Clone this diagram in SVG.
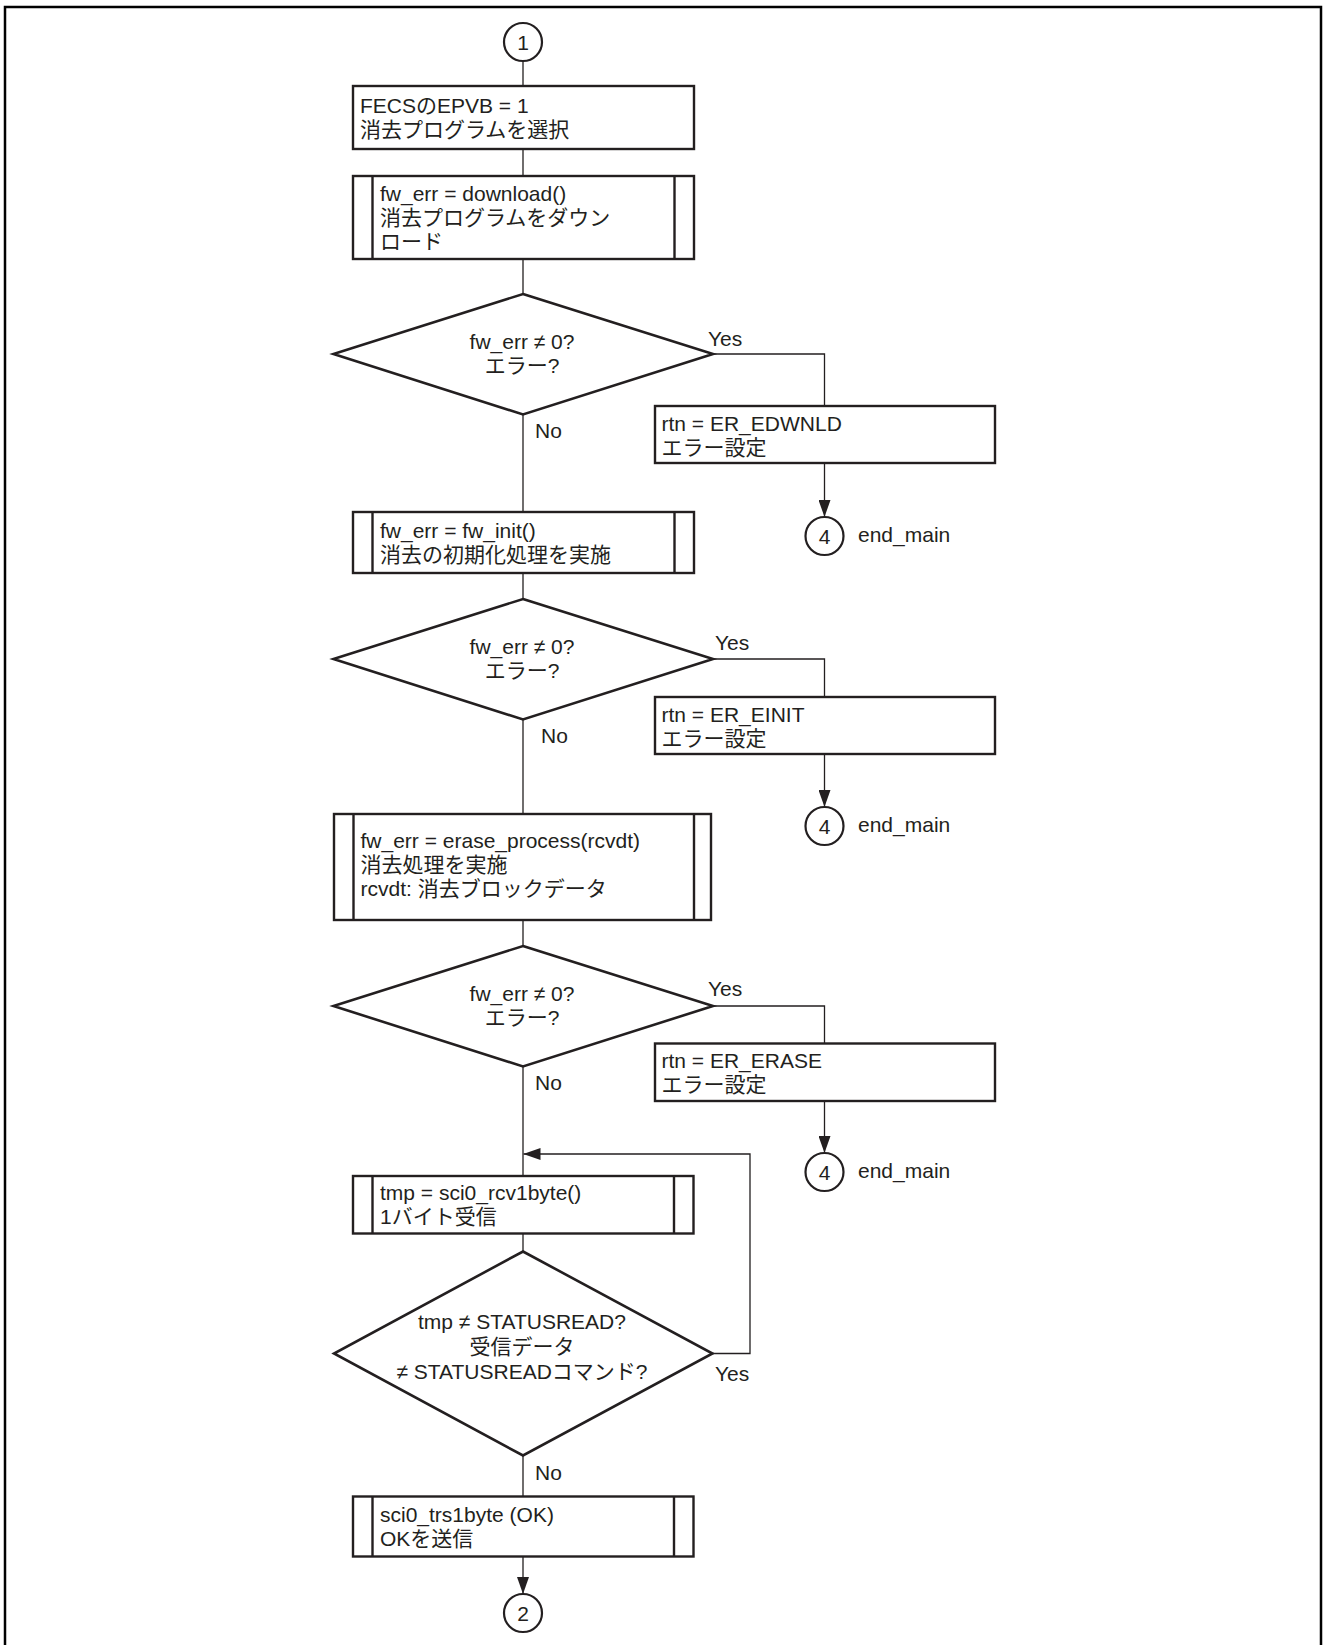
<svg xmlns="http://www.w3.org/2000/svg" width="1324" height="1645" viewBox="0 0 1324 1645">
<style>
text{font-family:"Liberation Sans","Noto Sans CJK JP",sans-serif;font-size:21px;fill:#231f20}
.c{text-anchor:middle}
.box{fill:#fff;stroke:#231f20;stroke-width:2.4}
.thin{fill:none;stroke:#231f20;stroke-width:2.4}
.dia{fill:#fff;stroke:#231f20;stroke-width:2.6}
.circ{fill:#fff;stroke:#231f20;stroke-width:2.2}
.con{fill:none;stroke:#231f20;stroke-width:1.3}
.frame{fill:none;stroke:#000;stroke-width:2.5}
</style>
<defs>
<marker id="ah" markerUnits="userSpaceOnUse" markerWidth="17" markerHeight="12" refX="17" refY="6" orient="auto">
<path d="M0,0 L17,6 L0,12 z" fill="#231f20"/>
</marker>
</defs>
<path class="frame" d="M5,1645 V7 H1321 V1645"/>

<g id="connectors">
<line class="con" x1="523" y1="61" x2="523" y2="86"/>
<line class="con" x1="523" y1="149" x2="523" y2="176"/>
<line class="con" x1="523" y1="259" x2="523" y2="294"/>
<polyline class="con" points="713,354 824.5,354 824.5,406"/>
<line class="con" x1="824.5" y1="463" x2="824.5" y2="517" marker-end="url(#ah)"/>
<line class="con" x1="523" y1="414.5" x2="523" y2="512"/>
<line class="con" x1="523" y1="573" x2="523" y2="599"/>
<polyline class="con" points="713,659 824.5,659 824.5,697"/>
<line class="con" x1="824.5" y1="754" x2="824.5" y2="807" marker-end="url(#ah)"/>
<line class="con" x1="523" y1="719.5" x2="523" y2="814"/>
<line class="con" x1="523" y1="920" x2="523" y2="946"/>
<polyline class="con" points="713,1006 824.5,1006 824.5,1043.5"/>
<line class="con" x1="824.5" y1="1101" x2="824.5" y2="1153" marker-end="url(#ah)"/>
<line class="con" x1="523" y1="1066.5" x2="523" y2="1176"/>
<polyline class="con" points="712.5,1353.5 750,1353.5 750,1154 523.5,1154" marker-end="url(#ah)"/>
<line class="con" x1="523" y1="1233.5" x2="523" y2="1251.5"/>
<line class="con" x1="523" y1="1455.5" x2="523" y2="1496.5"/>
<line class="con" x1="523" y1="1556.5" x2="523" y2="1594" marker-end="url(#ah)"/>
<text x="708" y="346">Yes</text>
<text x="535" y="438">No</text>
<text x="715" y="650">Yes</text>
<text x="541" y="743">No</text>
<text x="708" y="996">Yes</text>
<text x="535" y="1090">No</text>
<text x="715" y="1381">Yes</text>
<text x="535" y="1480">No</text>
</g>

<g id="start1">
<circle class="circ" cx="523" cy="42" r="19"/>
<text class="c" x="523" y="49.5">1</text>
</g>

<g id="select">
<rect class="box" x="353" y="86" width="341" height="63"/>
<text x="360" y="112.5">FECSのEPVB = 1</text>
<text x="360" y="136.5">消去プログラムを選択</text>
</g>

<g id="download">
<rect class="box" x="353" y="176" width="341" height="83"/>
<line class="thin" x1="372.5" y1="176" x2="372.5" y2="259"/>
<line class="thin" x1="674.5" y1="176" x2="674.5" y2="259"/>
<text x="380" y="200.5">fw_err = download()</text>
<text x="380" y="224.5">消去プログラムをダウン</text>
<text x="380" y="248.5">ロード</text>
</g>

<g id="dec1">
<polygon class="dia" points="523,294 713,354 523,414.5 333.5,354"/>
<text class="c" x="522" y="348.5">fw_err ≠ 0?</text>
<text class="c" x="522" y="372.5">エラー?</text>
</g>

<g id="err1">
<rect class="box" x="655" y="406" width="340" height="57"/>
<text x="661.5" y="430.5">rtn = ER_EDWNLD</text>
<text x="661.5" y="454.5">エラー設定</text>
</g>

<g id="end1">
<circle class="circ" cx="824.5" cy="536" r="19"/>
<text class="c" x="824.5" y="543.5">4</text>
<text x="858" y="542">end_main</text>
</g>

<g id="init">
<rect class="box" x="353" y="512" width="341" height="61"/>
<line class="thin" x1="372.5" y1="512" x2="372.5" y2="573"/>
<line class="thin" x1="674.5" y1="512" x2="674.5" y2="573"/>
<text x="380" y="537.5">fw_err = fw_init()</text>
<text x="380" y="561.5">消去の初期化処理を実施</text>
</g>

<g id="dec2">
<polygon class="dia" points="523,599 713,659 523,719.5 333.5,659"/>
<text class="c" x="522" y="653.5">fw_err ≠ 0?</text>
<text class="c" x="522" y="677.5">エラー?</text>
</g>

<g id="err2">
<rect class="box" x="655" y="697" width="340" height="57"/>
<text x="661.5" y="721.5">rtn = ER_EINIT</text>
<text x="661.5" y="745.5">エラー設定</text>
</g>

<g id="end2">
<circle class="circ" cx="824.5" cy="826" r="19"/>
<text class="c" x="824.5" y="833.5">4</text>
<text x="858" y="832">end_main</text>
</g>

<g id="erase">
<rect class="box" x="334" y="814" width="377" height="106"/>
<line class="thin" x1="353.5" y1="814" x2="353.5" y2="920"/>
<line class="thin" x1="694" y1="814" x2="694" y2="920"/>
<text x="360.5" y="847.5">fw_err = erase_process(rcvdt)</text>
<text x="360.5" y="871.5">消去処理を実施</text>
<text x="360.5" y="895.5">rcvdt: 消去ブロックデータ</text>
</g>

<g id="dec3">
<polygon class="dia" points="523,946 713,1006 523,1066.5 333.5,1006"/>
<text class="c" x="522" y="1000.5">fw_err ≠ 0?</text>
<text class="c" x="522" y="1024.5">エラー?</text>
</g>

<g id="err3">
<rect class="box" x="655" y="1043.5" width="340" height="57.5"/>
<text x="661.5" y="1068">rtn = ER_ERASE</text>
<text x="661.5" y="1092">エラー設定</text>
</g>

<g id="end3">
<circle class="circ" cx="824.5" cy="1172" r="19"/>
<text class="c" x="824.5" y="1179.5">4</text>
<text x="858" y="1178">end_main</text>
</g>

<g id="rcv">
<rect class="box" x="353" y="1176" width="340.5" height="57.5"/>
<line class="thin" x1="372.5" y1="1176" x2="372.5" y2="1233.5"/>
<line class="thin" x1="674" y1="1176" x2="674" y2="1233.5"/>
<text x="380" y="1199.5">tmp = sci0_rcv1byte()</text>
<text x="380" y="1223.5">1バイト受信</text>
</g>

<g id="dec4">
<polygon class="dia" points="523,1251.5 712.5,1353.5 523,1455.5 334,1353.5"/>
<text class="c" x="522" y="1329">tmp ≠ STATUSREAD?</text>
<text class="c" x="522" y="1354">受信データ</text>
<text class="c" x="522" y="1379">≠ STATUSREADコマンド?</text>
</g>

<g id="send">
<rect class="box" x="353" y="1496.5" width="340.5" height="60"/>
<line class="thin" x1="372.5" y1="1496.5" x2="372.5" y2="1556.5"/>
<line class="thin" x1="674" y1="1496.5" x2="674" y2="1556.5"/>
<text x="380" y="1521.5">sci0_trs1byte (OK)</text>
<text x="380" y="1545.5">OKを送信</text>
</g>

<g id="conn2">
<circle class="circ" cx="523" cy="1613" r="19"/>
<text class="c" x="523" y="1620.5">2</text>
</g>
</svg>
